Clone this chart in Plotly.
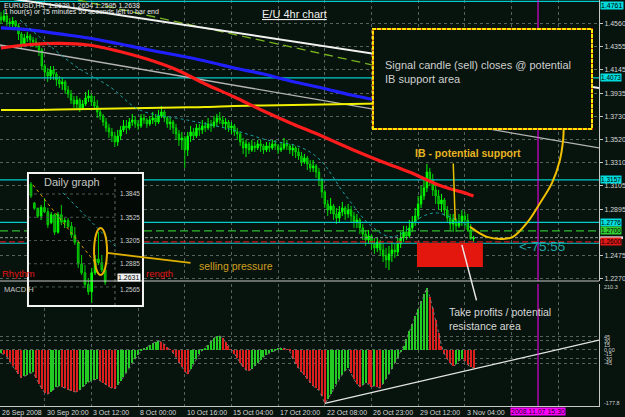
import plotly.graph_objects as go

BG = '#07130d'
FONT = 'Liberation Sans'

# ---------------- 4h EURUSD candles (bar index 0..162) ----------------
close = [1.4593, 1.4629, 1.4575, 1.4558, 1.4584, 1.4540, 1.4468, 1.4378, 1.4432, 1.4450,
         1.4414, 1.4396, 1.4378, 1.4324, 1.4180, 1.4126, 1.4090, 1.4144, 1.4108, 1.4055,
         1.4019, 1.4037, 1.3965, 1.3929, 1.3875, 1.3839, 1.3875, 1.3803, 1.3839, 1.3893,
         1.3911, 1.3857, 1.3821, 1.3767, 1.3731, 1.3677, 1.3624, 1.3588, 1.3552, 1.3498,
         1.3552, 1.3606, 1.3642, 1.3624, 1.3677, 1.3695, 1.3660, 1.3642, 1.3713, 1.3695,
         1.3660, 1.3695, 1.3713, 1.3677, 1.3731, 1.3767, 1.3713, 1.3660, 1.3677, 1.3624,
         1.3570, 1.3516, 1.3534, 1.3426, 1.3552, 1.3588, 1.3552, 1.3624, 1.3606, 1.3642,
         1.3624, 1.3660, 1.3642, 1.3677, 1.3713, 1.3695, 1.3660, 1.3677, 1.3624, 1.3642,
         1.3588, 1.3570, 1.3498, 1.3444, 1.3480, 1.3426, 1.3462, 1.3444, 1.3480, 1.3462,
         1.3426, 1.3462, 1.3444, 1.3480, 1.3462, 1.3426, 1.3444, 1.3480, 1.3462, 1.3426,
         1.3444, 1.3408, 1.3372, 1.3318, 1.3354, 1.3300, 1.3264, 1.3282, 1.3228, 1.3157,
         1.3049, 1.2941, 1.2887, 1.2923, 1.2851, 1.2815, 1.2869, 1.2905, 1.2851, 1.2887,
         1.2833, 1.2779, 1.2797, 1.2726, 1.2672, 1.2618, 1.2654, 1.2582, 1.2546, 1.2600,
         1.2528, 1.2474, 1.2438, 1.2492, 1.2528, 1.2510, 1.2582, 1.2636, 1.2690, 1.2654,
         1.2726, 1.2779, 1.2833, 1.2941, 1.3013, 1.3085, 1.3228, 1.3157, 1.3067, 1.3013,
         1.2941, 1.2977, 1.2887, 1.2815, 1.2761, 1.2797, 1.2744, 1.2779, 1.2833, 1.2797,
         1.2708, 1.2629, 1.2638]
high = [1.4665, 1.4683, 1.4647, 1.4611, 1.4620, 1.4593, 1.4558, 1.4486, 1.4468, 1.4486,
        1.4468, 1.4441, 1.4432, 1.4396, 1.4342, 1.4198, 1.4162, 1.4180, 1.4180, 1.4126,
        1.4090, 1.4073, 1.4055, 1.4001, 1.3965, 1.3911, 1.3911, 1.3893, 1.3875, 1.3947,
        1.3965, 1.3929, 1.3911, 1.3875, 1.3803, 1.3749, 1.3713, 1.3660, 1.3624, 1.3588,
        1.3606, 1.3642, 1.3695, 1.3695, 1.3713, 1.3749, 1.3731, 1.3695, 1.3749, 1.3749,
        1.3713, 1.3731, 1.3767, 1.3749, 1.3785, 1.3821, 1.3785, 1.3731, 1.3713, 1.3695,
        1.3660, 1.3606, 1.3588, 1.3552, 1.3588, 1.3642, 1.3624, 1.3660, 1.3660, 1.3695,
        1.3677, 1.3713, 1.3695, 1.3731, 1.3749, 1.3767, 1.3731, 1.3713, 1.3695, 1.3677,
        1.3660, 1.3624, 1.3588, 1.3534, 1.3516, 1.3498, 1.3516, 1.3498, 1.3516, 1.3516,
        1.3480, 1.3498, 1.3498, 1.3516, 1.3516, 1.3480, 1.3498, 1.3534, 1.3516, 1.3480,
        1.3480, 1.3462, 1.3444, 1.3408, 1.3390, 1.3372, 1.3336, 1.3336, 1.3300, 1.3264,
        1.3175, 1.3067, 1.2977, 1.2995, 1.2941, 1.2905, 1.2923, 1.2959, 1.2923, 1.2941,
        1.2923, 1.2869, 1.2851, 1.2815, 1.2761, 1.2708, 1.2708, 1.2672, 1.2636, 1.2636,
        1.2618, 1.2582, 1.2546, 1.2564, 1.2600, 1.2582, 1.2636, 1.2690, 1.2744, 1.2744,
        1.2797, 1.2833, 1.2905, 1.3013, 1.3103, 1.3157, 1.3300, 1.3264, 1.3211, 1.3121,
        1.3067, 1.3031, 1.2995, 1.2923, 1.2851, 1.2851, 1.2815, 1.2851, 1.2887, 1.2869,
        1.2851, 1.2761, 1.2654]
low = [1.4558, 1.4575, 1.4540, 1.4504, 1.4522, 1.4504, 1.4414, 1.4342, 1.4360, 1.4396,
       1.4378, 1.4351, 1.4342, 1.4270, 1.4144, 1.4073, 1.4037, 1.4055, 1.4055, 1.4001,
       1.3983, 1.3965, 1.3929, 1.3893, 1.3839, 1.3803, 1.3785, 1.3767, 1.3785, 1.3821,
       1.3857, 1.3821, 1.3785, 1.3713, 1.3695, 1.3642, 1.3588, 1.3534, 1.3498, 1.3453,
       1.3462, 1.3516, 1.3588, 1.3570, 1.3606, 1.3642, 1.3624, 1.3606, 1.3624, 1.3660,
       1.3624, 1.3642, 1.3660, 1.3642, 1.3660, 1.3713, 1.3677, 1.3624, 1.3606, 1.3570,
       1.3516, 1.3462, 1.3426, 1.3264, 1.3372, 1.3498, 1.3516, 1.3534, 1.3552, 1.3570,
       1.3588, 1.3606, 1.3588, 1.3624, 1.3642, 1.3660, 1.3624, 1.3606, 1.3588, 1.3570,
       1.3552, 1.3516, 1.3462, 1.3390, 1.3363, 1.3390, 1.3408, 1.3408, 1.3426, 1.3408,
       1.3390, 1.3408, 1.3408, 1.3426, 1.3426, 1.3390, 1.3408, 1.3426, 1.3426, 1.3390,
       1.3372, 1.3354, 1.3336, 1.3282, 1.3300, 1.3246, 1.3228, 1.3228, 1.3175, 1.3103,
       1.2995, 1.2905, 1.2833, 1.2851, 1.2797, 1.2761, 1.2779, 1.2833, 1.2797, 1.2815,
       1.2779, 1.2726, 1.2726, 1.2672, 1.2618, 1.2564, 1.2582, 1.2528, 1.2492, 1.2510,
       1.2474, 1.2420, 1.2366, 1.2348, 1.2420, 1.2456, 1.2474, 1.2546, 1.2600, 1.2618,
       1.2636, 1.2690, 1.2744, 1.2797, 1.2905, 1.2977, 1.3049, 1.3103, 1.3013, 1.2941,
       1.2887, 1.2869, 1.2833, 1.2779, 1.2708, 1.2690, 1.2690, 1.2726, 1.2744, 1.2726,
       1.2690, 1.2618, 1.2595]
first_open = 1.4620
opens = [first_open] + close[:-1]
bars = list(range(len(close)))

# moving averages, sampled every 10 bars
ma_bars = [0, 10, 20, 30, 40, 50, 60, 70, 80, 90, 100, 110, 120, 130, 140, 150, 160, 162]
ma_blue = [1.4522, 1.4504, 1.4468, 1.4432, 1.4382, 1.4328, 1.4279, 1.4225, 1.4162, 1.4108,
           1.4041, 1.3983, 1.3920, 1.3866, 1.3803, 1.3749, 1.3695, 1.3686]
ma_red = [1.4342, 1.4373, 1.4384, 1.4369, 1.4315, 1.4243, 1.4149, 1.4019, 1.3902, 1.3776,
          1.3660, 1.3552, 1.3435, 1.3327, 1.3228, 1.3112, 1.3031, 1.3013]
ma_yellow = [1.3785, 1.3785, 1.3790, 1.3794, 1.3799, 1.3803, 1.3808, 1.3812, 1.3821, 1.3826,
             1.3830, 1.3835, 1.3839, 1.3844, 1.3848, 1.3857, 1.3862, 1.3862]
ema_bars = [6.5, 14.4, 26, 37.4, 47.6, 63.8, 79.5, 91.2, 102.5, 109.4, 118, 126.5, 133.4,
            137.8, 143.6, 149.5, 160.8, 162.5]
ema_vals = [1.4593, 1.4414, 1.4171, 1.3992, 1.3785, 1.3695, 1.3606, 1.3516, 1.3453, 1.3336,
            1.3022, 1.2752, 1.2645, 1.2681, 1.2815, 1.2860, 1.2735, 1.2717]

# drawn trend lines (bar, price)
trend_white_bars, trend_white_prices = [-0.34, 205.0], [1.4800, 1.3983]
trend_grey_bars, trend_grey_prices = [-0.34, 205.0], [1.4369, 1.3444]
trend_green_bars, trend_green_prices = [26.4, 127.5], [1.4773, 1.4189]

# horizontal levels
cyan_levels = [1.4761, 1.4073, 1.3157, 1.2776, 1.2588]
green_level = 1.2700
red_level = 1.2600
bid_level = 1.2638
vline_bar = 184.1

# annotations drawn on chart
zone_bars, zone_prices = [142.6, 165.2], [1.2375, 1.2591]
note_bars, note_prices = [127.5, 202.6], [1.3615, 1.4513]
curve_bars = [160.8, 166.6, 172.1, 175.5, 180.3, 184.8, 188.9, 191.6, 192.7, 192.9]
curve_prices = [1.2735, 1.2645, 1.2627, 1.2645, 1.2770, 1.2950, 1.3130, 1.3336, 1.3516, 1.3615]

# MACD histogram
macd_hist = [-10, -15, -22, -40, -55, -68, -80, -93,
             -88, -82, -78, -75,
             -95, -115, -130, -142, -148,
             -140, -132, -125, -120,
             -124, -128, -133, -137, -139, -140,
             -132, -122, -115, -108, -102, -99, -97,
             -103, -110, -117, -123, -128, -130,
             -118, -104, -90, -76, -60, -45, -30, -16, -4,
             4, 10, 16, 22, 27, 30, 28, 20, 10, 2,
             -10, -25, -42, -58, -72, -80,
             -65, -48, -30, -14, -2,
             8, 18, 30, 40, 46, 47, 40, 28, 15, 3,
             -12, -28, -45, -58, -67, -70,
             -62, -52, -42, -32, -24, -16, -10,
             -6, -2, 4, 8, 6, 2, -4,
             -30, -48, -60, -72, -85, -98, -110, -120, -128, -135, -155, -178,
             -165, -148, -130, -112, -96, -82, -70, -60,
             -78, -98, -112, -123,
             -118, -110, -115, -122, -120, -125, -127,
             -112, -96, -80, -62, -44, -26, -8,
             14, 38, 62, 88, 112, 138, 162, 186, 207,
             178, 140, 100, 58, 15,
             -12, -30, -45, -55,
             -48, -36, -30, -38, -50, -56, -60]
macd_bars = list(range(len(macd_hist)))
macd_trend_bars, macd_trend_vals = [111, 205.0], [-178, 33]
macd_labels = [210.3, 45, 30, 15, 0, -15, -30, -45, -177.8]
macd_label_text = ['210.3', '45', '30', '15', '0.00', '-15', '-30', '-45', '-177.8']

# daily inset
d_open = [1.3980, 1.3720, 1.3650, 1.3540, 1.3660, 1.3600, 1.3450, 1.3560, 1.3320, 1.3560,
          1.3460, 1.3480, 1.3400, 1.3280, 1.3180, 1.2880, 1.2760, 1.2600, 1.2500, 1.2760,
          1.2950, 1.2900, 1.2800]
d_high = [1.4010, 1.3735, 1.3652, 1.3694, 1.3790, 1.3652, 1.3597, 1.3575, 1.3597, 1.3694,
          1.3515, 1.3515, 1.3460, 1.3391, 1.3184, 1.3005, 1.2868, 1.2689, 1.2826, 1.3005,
          1.3322, 1.3005, 1.2820]
d_low = [1.3790, 1.3625, 1.3515, 1.3487, 1.3583, 1.3377, 1.3430, 1.3281, 1.3300, 1.3418,
         1.3377, 1.3377, 1.3239, 1.3143, 1.2826, 1.2730, 1.2551, 1.2455, 1.2345, 1.2730,
         1.2868, 1.2771, 1.2593]
d_close = [1.3820, 1.3650, 1.3540, 1.3660, 1.3600, 1.3420, 1.3560, 1.3320, 1.3560, 1.3460,
           1.3480, 1.3400, 1.3280, 1.3180, 1.2880, 1.2760, 1.2600, 1.2500, 1.2760, 1.2950,
           1.2900, 1.2800, 1.2631]
d_bars = list(range(len(d_close)))
inset_levels = [1.3845, 1.3525, 1.3205, 1.2885, 1.2565]
inset_last = 1.2631
ellipse_bars, ellipse_prices = [18.7, 22.55], [1.2730, 1.3377]
inset_orange_bars, inset_orange_prices = [0.6, 19.6], [1.3969, 1.2868]
inset_cyan_bars, inset_cyan_prices = [9.5, 25.5], [1.3859, 1.3102]
inset_axis_bar = 24.9

price_ticks = [1.4560, 1.4355, 1.4145, 1.3935, 1.3730, 1.3520, 1.3310, 1.3105, 1.2895, 1.2475, 1.2270]
time_label_bars = [15, 31, 47, 63, 79, 95, 111, 127, 143, 159]
time_labels = ['30 Sep 20:00', '3 Oct 12:00', '8 Oct 00:00', '10 Oct 16:00', '15 Oct 04:00',
               '17 Oct 20:00', '22 Oct 08:00', '26 Oct 23:00', '29 Oct 12:00', '3 Nov 04:00']
grid_bars = time_label_bars + [175, 191]

# ---------------- layout geometry ----------------
X_RANGE = [-0.343, 205.0]
PRICE_RANGE = [1.2249, 1.4773]
MACD_RANGE = [-186.9, 220.2]
INSET_X = [-0.89, 33.2]
INSET_Y = [1.2303, 1.4134]
PW, PH = 599, 406


def P(x, y):
    return x / PW, (PH - y) / PH


fig = go.Figure()

# --- price panel ---
for lv in cyan_levels:
    fig.add_trace(go.Scatter(x=X_RANGE, y=[lv, lv], mode='lines',
                             line=dict(color='#00cccc', width=1.2), xaxis='x', yaxis='y'))
fig.add_trace(go.Scatter(x=X_RANGE, y=[green_level] * 2, mode='lines',
                         line=dict(color='#2fbf2f', width=1.2, dash='8px,4px'), xaxis='x', yaxis='y'))
fig.add_trace(go.Scatter(x=X_RANGE, y=[bid_level] * 2, mode='lines',
                         line=dict(color='#9a9a9a', width=1, dash='3px,2px'), xaxis='x', yaxis='y'))
fig.add_trace(go.Scatter(x=X_RANGE, y=[red_level] * 2, mode='lines',
                         line=dict(color='#d01818', width=1.2, dash='6px,3px'), xaxis='x', yaxis='y'))

fig.add_trace(go.Scatter(x=trend_green_bars, y=trend_green_prices, mode='lines',
                         line=dict(color='#78b41e', width=1.3, dash='9px,5px'), xaxis='x', yaxis='y'))
fig.add_trace(go.Scatter(x=trend_grey_bars, y=trend_grey_prices, mode='lines',
                         line=dict(color='#b4b4b4', width=1.3), xaxis='x', yaxis='y'))
fig.add_trace(go.Scatter(x=trend_white_bars, y=trend_white_prices, mode='lines',
                         line=dict(color='#f2f2f2', width=2), xaxis='x', yaxis='y'))

fig.add_trace(go.Scatter(x=ma_bars, y=ma_yellow, mode='lines', line_shape='spline',
                         line=dict(color='#f0f000', width=2), xaxis='x', yaxis='y'))
fig.add_trace(go.Scatter(x=ma_bars, y=ma_blue, mode='lines', line_shape='spline',
                         line=dict(color='#2020ff', width=3.2), xaxis='x', yaxis='y'))
fig.add_trace(go.Scatter(x=ma_bars, y=ma_red, mode='lines', line_shape='spline',
                         line=dict(color='#ff1c1c', width=3.2), xaxis='x', yaxis='y'))
fig.add_trace(go.Scatter(x=ema_bars, y=ema_vals, mode='lines', line_shape='spline',
                         line=dict(color='#1aa0a0', width=1, dash='dot'), xaxis='x', yaxis='y'))

fig.add_trace(go.Candlestick(x=bars, open=opens, high=high, low=low, close=close,
                             increasing=dict(line=dict(color='#00ff00', width=1), fillcolor='#00ff00'),
                             decreasing=dict(line=dict(color='#00d800', width=1), fillcolor='#0a8a0a'),
                             whiskerwidth=0, xaxis='x', yaxis='y'))

fig.add_trace(go.Scatter(x=[vline_bar] * 2, y=PRICE_RANGE, mode='lines',
                         line=dict(color='#ff00ff', width=1), xaxis='x', yaxis='y'))
fig.add_trace(go.Scatter(x=curve_bars, y=curve_prices, mode='lines', line_shape='spline',
                         line=dict(color='#f0c000', width=2), xaxis='x', yaxis='y'))

# --- MACD panel ---
colors = ['#22cc22' if (i == 0 or v >= macd_hist[i - 1]) else '#dd1e1e' for i, v in enumerate(macd_hist)]
fig.add_trace(go.Bar(x=macd_bars, y=macd_hist, width=0.38, marker=dict(color=colors, line_width=0),
                     xaxis='x2', yaxis='y2'))
fig.add_trace(go.Scatter(x=macd_bars, y=macd_hist, mode='lines',
                         line=dict(color='#7a7a7a', width=1, dash='dot'), xaxis='x2', yaxis='y2'))
fig.add_trace(go.Scatter(x=macd_trend_bars, y=macd_trend_vals, mode='lines',
                         line=dict(color='#e6e6e6', width=1.3), xaxis='x2', yaxis='y2'))
fig.add_trace(go.Scatter(x=[vline_bar] * 2, y=MACD_RANGE, mode='lines',
                         line=dict(color='#ff00ff', width=1), xaxis='x2', yaxis='y2'))

# --- daily inset (its own subplot, drawn over the main panels) ---
fig.add_trace(go.Bar(x=[(INSET_X[0] + INSET_X[1]) / 2], y=[INSET_Y[1] - INSET_Y[0]], base=INSET_Y[0],
                     width=INSET_X[1] - INSET_X[0], marker=dict(color='#030a06', line_width=0),
                     xaxis='x3', yaxis='y3'))
fig.add_trace(go.Candlestick(x=d_bars, open=d_open, high=d_high, low=d_low, close=d_close,
                             increasing=dict(line=dict(color='#00ff00', width=1), fillcolor='#00ff00'),
                             decreasing=dict(line=dict(color='#00d000', width=1), fillcolor='#109010'),
                             whiskerwidth=0, xaxis='x3', yaxis='y3'))
for lv in inset_levels:
    fig.add_trace(go.Scatter(x=[INSET_X[0], inset_axis_bar], y=[lv, lv], mode='lines',
                             line=dict(color='#4e5a54', width=1, dash='3px,3px'), xaxis='x3', yaxis='y3'))
fig.add_trace(go.Scatter(x=[inset_axis_bar] * 2, y=INSET_Y, mode='lines',
                         line=dict(color='#5e6a64', width=1, dash='3px,3px'), xaxis='x3', yaxis='y3'))
fig.add_trace(go.Scatter(x=inset_orange_bars, y=inset_orange_prices, mode='lines',
                         line=dict(color='#d8a000', width=1, dash='dot'), xaxis='x3', yaxis='y3'))
fig.add_trace(go.Scatter(x=inset_cyan_bars, y=inset_cyan_prices, mode='lines',
                         line=dict(color='#1aa0a0', width=1, dash='dot'), xaxis='x3', yaxis='y3'))

grid = dict(showgrid=True, gridcolor='#56625c', gridwidth=1, griddash='3px,3px', zeroline=False)

fig.update_layout(
    width=625, height=417, margin=dict(l=0, r=26, t=0, b=11),
    paper_bgcolor=BG, plot_bgcolor=BG, showlegend=False,
    xaxis=dict(domain=[0, 1], range=X_RANGE, anchor='y', tickvals=grid_bars, showticklabels=False,
               ticks='', rangeslider=dict(visible=False), **grid),
    yaxis=dict(domain=[0.3079, 1], range=PRICE_RANGE, anchor='x', side='right',
               tickvals=price_ticks, ticktext=['%.4f' % v for v in price_ticks],
               tickfont=dict(family=FONT, size=7, color='#d8d8d8'), ticks='outside', ticklen=3,
               tickcolor='#c8c8c8', showline=True, linecolor='#c8c8c8', linewidth=1, **grid),
    xaxis2=dict(domain=[0, 1], range=X_RANGE, anchor='y2', matches='x', tickvals=grid_bars,
                showticklabels=False, ticks='', showline=True, linecolor='#c8c8c8', linewidth=1, **grid),
    yaxis2=dict(domain=[0, 0.3005], range=MACD_RANGE, anchor='x2', side='right',
                tickvals=[45, 30, 0, -30, -45], showticklabels=False, ticks='',
                showline=True, linecolor='#c8c8c8', linewidth=1, **grid),
    xaxis3=dict(domain=[0.0467, 0.2387], range=INSET_X, anchor='y3', visible=False,
                rangeslider=dict(visible=False)),
    yaxis3=dict(domain=[0.2463, 0.5739], range=INSET_Y, anchor='x3', visible=False),
    bargap=0,
)

shapes = []
# separator between panels
shapes.append(dict(type='line', xref='paper', yref='y domain', x0=0, x1=1, y0=0, y1=0,
                   line=dict(color='#c8c8c8', width=1.2), layer='above'))
# bid-price marker on the axis (mostly hidden behind the level labels)
shapes.append(dict(type='rect', xref='paper', yref='y', x0=1.002, x1=1.04, y0=bid_level - 0.0012,
                   y1=bid_level + 0.0012, fillcolor='#e8e8e8', line=dict(width=0), layer='above'))
# red target zone
shapes.append(dict(type='rect', xref='x', yref='y', x0=zone_bars[0], x1=zone_bars[1],
                   y0=zone_prices[0], y1=zone_prices[1], fillcolor='#e3170d', line=dict(width=0),
                   layer='above'))
# note box
shapes.append(dict(type='rect', xref='x', yref='y', x0=note_bars[0], x1=note_bars[1],
                   y0=note_prices[0], y1=note_prices[1], fillcolor=BG,
                   line=dict(color='#c81e00', width=2), layer='above'))
shapes.append(dict(type='rect', xref='x', yref='y', x0=note_bars[0], x1=note_bars[1],
                   y0=note_prices[0], y1=note_prices[1], fillcolor='rgba(0,0,0,0)',
                   line=dict(color='#ffea00', width=2, dash='4px,1px'), layer='above'))
# inset border and ellipse
shapes.append(dict(type='rect', xref='x3 domain', yref='y3 domain', x0=0, x1=1, y0=0, y1=1,
                   line=dict(color='#f4f4f4', width=2), layer='above'))
shapes.append(dict(type='circle', xref='x3', yref='y3', x0=ellipse_bars[0], x1=ellipse_bars[1],
                   y0=ellipse_prices[0], y1=ellipse_prices[1], line=dict(color='#e8b000', width=2),
                   layer='above'))
fig.update_layout(shapes=shapes)

ann = []


def text(x, y, s, size, color, xanchor='left', bold=False, bg=None, **kw):
    px, py = P(x, y)
    d = dict(xref='paper', yref='paper', x=px, y=py, text=('<b>%s</b>' % s) if bold else s,
             showarrow=False, xanchor=xanchor, yanchor='middle',
             font=dict(family=FONT, size=size, color=color), align='left')
    if bg:
        d['bgcolor'] = bg
    d.update(kw)
    ann.append(d)


text(2, 5, 'EURUSD,H4  1.2629 1.2654 1.2595 1.2638', 7, '#e8e8e8')
text(2, 12.5, '1 hour(s) or 75 minutes 55 seconds left to bar end', 7, '#e8e8e8')
text(294, 14, '<u>E/U 4hr chart</u>', 11, '#f0f0f0', xanchor='center')
text(383, 72, 'Signal candle (sell) closes @ potential<br>IB support area', 11, '#cfcfcf')
text(468, 153, 'IB - potential support', 10.5, '#e6b422', xanchor='center', bold=True)
text(447, 318.5, 'Take profits / potential<br>resistance area', 10.5, '#d8d8d8')
text(197, 266, 'selling pressure', 10.5, '#d0a020')
text(517, 246, '<-75:55', 13.5, '#22a4a4')
text(0, 273, 'Rhythm', 9.5, '#e01414')
text(144, 273, 'rength', 9.5, '#e01414')
text(2, 289.5, 'MACD H', 7.5, '#c8c8c8')
text(42, 182, 'Daily graph', 11, '#c4c4c4')

# callout lines
ann.append(dict(xref='x', yref='y', x=155.7, y=1.2797, text='', showarrow=True, arrowhead=0,
                ax=-2, ay=-58, arrowwidth=1.5, arrowcolor='#e8c000'))
ann.append(dict(xref='x', yref='y', x=158.0, y=1.2573, text='', showarrow=True, arrowhead=0,
                ax=15, ay=57, arrowwidth=1.5, arrowcolor='#e8e8e8'))
ann.append(dict(xref='x3', yref='y3', x=ellipse_bars[1], y=1.3033, text='', showarrow=True,
                arrowhead=0, ax=85, ay=10, arrowwidth=1.8, arrowcolor='#e0b000'))


# right-axis price labels with coloured boxes
def level_label(v, bg, fg='#000000', yanchor='middle', size=6.5):
    ann.append(dict(xref='paper', yref='y', x=1, y=v, xanchor='left', yanchor=yanchor,
                    xshift=1, text='%.4f' % v, showarrow=False, bgcolor=bg, borderpad=0,
                    font=dict(family=FONT, size=size, color=fg)))


level_label(cyan_levels[0], '#00dcdc', yanchor='top', size=7)
for lv in cyan_levels[1:4]:
    level_label(lv, '#00dcdc')
level_label(green_level, '#33cc33')
level_label(red_level, '#e01818')

for v, s in zip(macd_labels, macd_label_text):
    ann.append(dict(xref='paper', yref='y2', x=1, y=v, xanchor='left', yanchor='middle', xshift=3,
                    text=s, showarrow=False, font=dict(family=FONT, size=5.5, color='#d0d0d0')))

# inset price labels
for v in inset_levels:
    ann.append(dict(xref='x3', yref='y3', x=25.8, y=v, xanchor='left', yanchor='middle', text='%.4f' % v,
                    showarrow=False, font=dict(family=FONT, size=6.5, color='#d0d0d0'),
                    yshift=-3 if v < inset_last else 0))
ann.append(dict(xref='x3', yref='y3', x=25.6, y=inset_last, xanchor='left', yanchor='bottom',
                text='%.4f' % inset_last, showarrow=False, bgcolor='#f4f4f4', borderpad=0,
                font=dict(family=FONT, size=7, color='#000000')))

# time axis labels
ann.append(dict(xref='x2', yref='paper', x=X_RANGE[0], y=0, xanchor='left', yanchor='top', yshift=-1,
                text='26 Sep 2008', showarrow=False, font=dict(family=FONT, size=7, color='#d8d8d8')))
for b, s in zip(time_label_bars, time_labels):
    ann.append(dict(xref='x2', yref='paper', x=b, y=0, xanchor='left', yanchor='top', yshift=-1,
                    text=s, showarrow=False, font=dict(family=FONT, size=7, color='#d8d8d8')))
ann.append(dict(xref='x2', yref='paper', x=vline_bar, y=0, xanchor='center', yanchor='top', yshift=-1,
                text='2008.11.07 15:30', showarrow=False, bgcolor='#ff00ff', borderpad=0,
                font=dict(family=FONT, size=7, color='#200020')))

fig.update_layout(annotations=ann)
fig.write_html('out.html')
